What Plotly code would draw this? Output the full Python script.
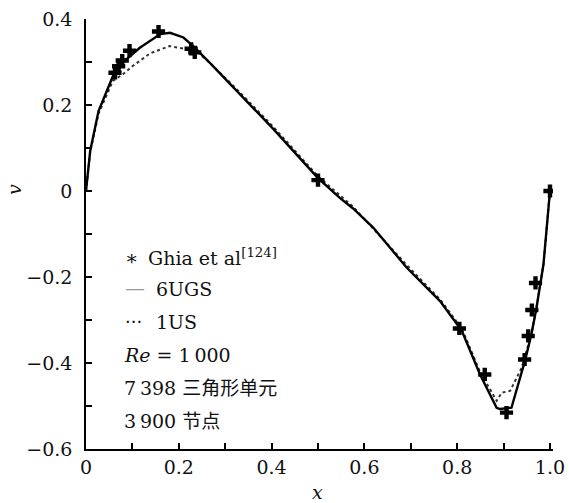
import plotly.graph_objects as go

# Ghia et al. reference data (v along horizontal centreline, Re=1000)
ghia_x = [0.0625, 0.0703, 0.0781, 0.0938, 0.1563, 0.2266, 0.2344, 0.5,
          0.8047, 0.8594, 0.9063, 0.9453, 0.9531, 0.9609, 0.9688, 1.0]
ghia_v = [0.27485, 0.29012, 0.30353, 0.32627, 0.37095, 0.33075, 0.32235, 0.02526,
          -0.31966, -0.42665, -0.51550, -0.39188, -0.33714, -0.27669, -0.21388, 0.0]

# 6UGS (solid)
ugs_x = [0, 0.009, 0.027, 0.045, 0.058, 0.08, 0.116, 0.16, 0.181, 0.21, 0.231, 0.267,
         0.32, 0.403, 0.5, 0.547, 0.575, 0.619, 0.691, 0.763, 0.81, 0.823, 0.849,
         0.885, 0.892, 0.917, 0.946, 0.96, 0.971, 0.986, 1.0]
ugs_v = [0, 0.093, 0.186, 0.233, 0.267, 0.30, 0.333, 0.365, 0.368, 0.357, 0.337, 0.298,
         0.238, 0.145, 0.03, -0.016, -0.04, -0.085, -0.178, -0.256, -0.325, -0.36, -0.426,
         -0.504, -0.507, -0.504, -0.395, -0.333, -0.271, -0.17, 0]

# 1US (dotted)
us_x = [0, 0.009, 0.027, 0.045, 0.058, 0.08, 0.1, 0.138, 0.18, 0.217, 0.238, 0.267,
        0.32, 0.403, 0.5, 0.575, 0.691, 0.763, 0.81, 0.849, 0.885, 0.896, 0.914,
        0.939, 0.96, 0.971, 0.986, 1.0]
us_v = [0, 0.09, 0.18, 0.225, 0.256, 0.272, 0.29, 0.32, 0.337, 0.33, 0.325, 0.298,
        0.242, 0.15, 0.034, -0.036, -0.172, -0.252, -0.32, -0.42, -0.488, -0.469, -0.465,
        -0.411, -0.333, -0.271, -0.17, 0]

x_ticks = [0, 0.2, 0.4, 0.6, 0.8, 1.0]
x_labels = ["0", "0.2", "0.4", "0.6", "0.8", "1.0"]
y_ticks = [-0.6, -0.4, -0.2, 0, 0.2, 0.4]
y_labels = ["\u22120.6", "\u22120.4", "\u22120.2", "0", "0.2", "0.4"]

legend_lines = ["Ghia et al<sup>[124]</sup>", "6UGS", "1US", "<i>Re</i> = 1\u2009000",
                "7\u2009398 三角形单元", "3\u2009900 节点"]
legend_syms = ["\u2217", "\u2014", "\u00b7\u00b7\u00b7"]

FONT = "DejaVu Serif, Noto Sans CJK SC, serif"

L, T, PW, PH = 86, 19, 467, 430


def px(xp):
    return (xp - L) / PW


def py(yp):
    return 1 - (yp - T) / PH


fig = go.Figure()
fig.add_trace(go.Scatter(x=us_x, y=us_v, mode="lines",
                         line=dict(color="#333", width=2, dash="dot"), showlegend=False))
fig.add_trace(go.Scatter(x=ugs_x, y=ugs_v, mode="lines",
                         line=dict(color="#000", width=2.4), showlegend=False))
fig.add_trace(go.Scatter(x=ghia_x, y=ghia_v, mode="markers",
                         marker=dict(symbol="cross", size=11, color="#000"),
                         showlegend=False))

# legend-like annotations
text_x = [146, 154, 154, 122, 122, 122]
text_y = [257, 289, 322, 355, 388, 421]
for txt, tx, ty in zip(legend_lines, text_x, text_y):
    fig.add_annotation(xref="paper", yref="paper", x=px(tx), y=py(ty),
                       text=txt, showarrow=False, xanchor="left", yanchor="middle",
                       font=dict(family=FONT, size=19, color="#111"))
sym_colors = ["#111", "#999", "#111"]
sym_sizes = [20, 20, 18]
sym_y = [258, 288, 321]
for s, c, sz, sy in zip(legend_syms, sym_colors, sym_sizes, sym_y):
    fig.add_annotation(xref="paper", yref="paper", x=px(123), y=py(sy),
                       text=s, showarrow=False, xanchor="left", yanchor="middle",
                       font=dict(family=FONT, size=sz, color=c))

# axis titles
fig.add_annotation(xref="paper", yref="paper", x=px(317), y=py(492), text="<i>x</i>",
                   showarrow=False, xanchor="center", yanchor="middle",
                   font=dict(family=FONT, size=19, color="#111"))
fig.add_annotation(xref="paper", yref="paper", x=px(14), y=py(190), text="<i>v</i>",
                   showarrow=False, xanchor="center", yanchor="middle", textangle=-90,
                   font=dict(family=FONT, size=19, color="#111"))

fig.update_layout(
    width=569, height=503,
    margin=dict(l=L, r=569 - L - PW, t=T, b=503 - T - PH, autoexpand=False),
    plot_bgcolor="white", paper_bgcolor="white",
    font=dict(family=FONT, size=19, color="#111"),
    xaxis=dict(range=[0, 1.0065], tickvals=x_ticks, ticktext=x_labels, automargin=False,
               showgrid=False, zeroline=False, showline=True, linecolor="#000", linewidth=1.5,
               ticks="inside", ticklen=6, tickwidth=1.5, tickcolor="#000",
               minor=dict(dtick=0.1, tick0=0, ticks="inside", ticklen=6, tickwidth=1.5, tickcolor="#000")),
    yaxis=dict(range=[-0.6, 0.4], tickvals=y_ticks, ticktext=y_labels, automargin=False,
               showgrid=False, zeroline=False, showline=True, linecolor="#000", linewidth=1.5,
               ticks="inside", ticklen=6, tickwidth=1.5, tickcolor="#000",
               minor=dict(dtick=0.1, tick0=0, ticks="inside", ticklen=6, tickwidth=1.5, tickcolor="#000"),
               ticklabelstandoff=8),
)

fig.write_html("out.html")
